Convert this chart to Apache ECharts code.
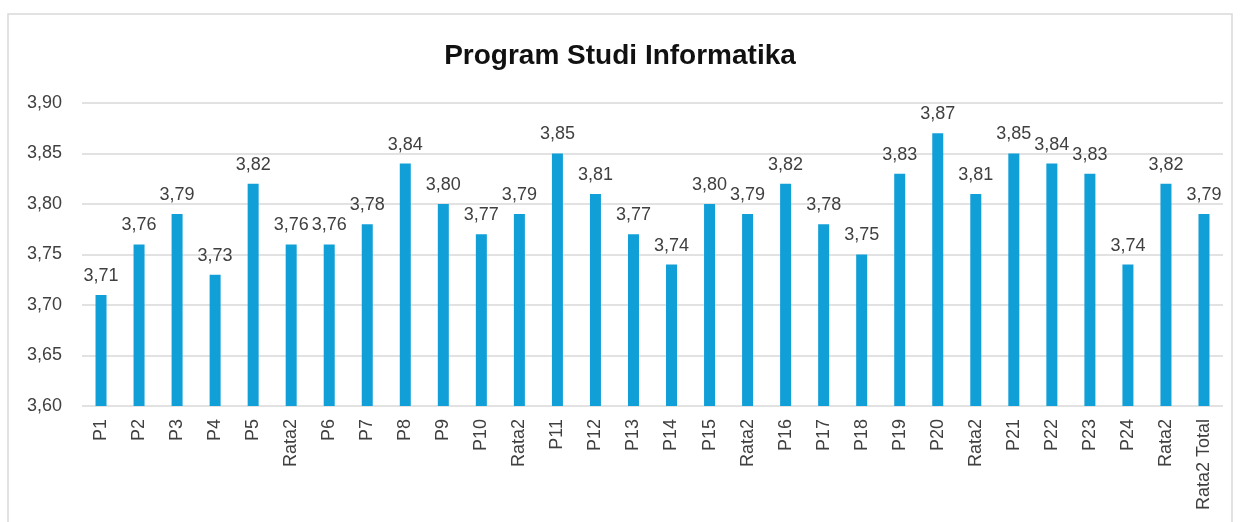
<!DOCTYPE html>
<html>
<head>
<meta charset="utf-8">
<script src="https://cdn.jsdelivr.net/npm/echarts@6/dist/echarts.min.js"></script>
<style>
html, body { margin: 0; padding: 0; background: #fff; }
#chart { width: 1240px; height: 522px; }
</style>
</head>
<body>
<div id="chart"></div>
<script>
// kategori (sumbu x)
var categories = ['P1', 'P2', 'P3', 'P4', 'P5', 'Rata2', 'P6', 'P7', 'P8', 'P9', 'P10', 'Rata2',
    'P11', 'P12', 'P13', 'P14', 'P15', 'Rata2', 'P16', 'P17', 'P18', 'P19', 'P20', 'Rata2',
    'P21', 'P22', 'P23', 'P24', 'Rata2', 'Rata2 Total'];
// nilai rata-rata
var values = [3.71, 3.76, 3.79, 3.73, 3.82, 3.76, 3.76, 3.78, 3.84, 3.80, 3.77, 3.79,
    3.85, 3.81, 3.77, 3.74, 3.80, 3.79, 3.82, 3.78, 3.75, 3.83, 3.87, 3.81,
    3.85, 3.84, 3.83, 3.74, 3.82, 3.79];
var yMin = 3.60, yMax = 3.90, yStep = 0.05;

function koma(v) {
    return v.toFixed(2).replace('.', ',');
}

var myChart = echarts.init(document.getElementById('chart'));
var option = {
    animation: false,
    title: {
        text: 'Program Studi Informatika',
        left: 'center',
        top: 37,
        textStyle: {
            fontFamily: 'Liberation Sans',
            fontWeight: 'bold',
            fontSize: 28,
            color: '#111'
        }
    },
    graphic: [{
        type: 'rect',
        shape: { x: 8, y: 14, width: 1224, height: 520 },
        style: { fill: 'none', stroke: '#d9d9d9', lineWidth: 1.5 },
        silent: true
    }],
    grid: {
        left: 82,
        right: 17,
        top: 103,
        bottom: 116
    },
    xAxis: {
        type: 'category',
        data: categories,
        axisTick: { show: false },
        axisLine: { show: false },
        axisLabel: {
            rotate: 90,
            interval: 0,
            margin: 13,
            fontFamily: 'Liberation Sans',
            fontSize: 18,
            color: '#404040'
        }
    },
    yAxis: {
        type: 'value',
        min: yMin,
        max: yMax,
        interval: yStep,
        axisLine: { show: false },
        axisTick: { show: false },
        splitLine: { lineStyle: { color: '#d9d9d9', width: 1.5 } },
        axisLabel: {
            margin: 20,
            fontFamily: 'Liberation Sans',
            fontSize: 18,
            color: '#404040',
            formatter: function (v) { return koma(v); }
        }
    },
    series: [{
        type: 'bar',
        data: values,
        barWidth: 11,
        itemStyle: { color: '#119fd8' },
        label: {
            show: true,
            position: 'top',
            distance: 10,
            fontFamily: 'Liberation Sans',
            fontSize: 18,
            color: '#404040',
            formatter: function (p) { return koma(p.value); }
        }
    }]
};
myChart.setOption(option);
</script>
</body>
</html>
